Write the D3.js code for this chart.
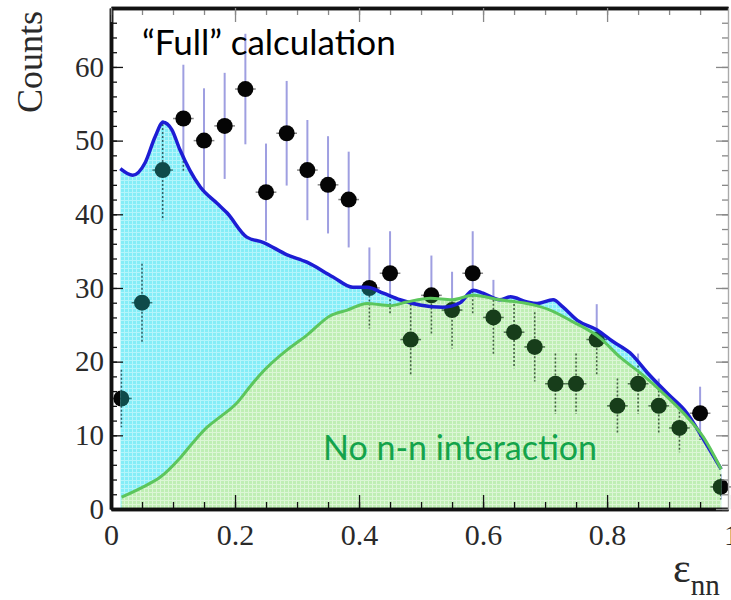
<!DOCTYPE html>
<html>
<head>
<meta charset="utf-8">
<script src="https://cdn.jsdelivr.net/npm/d3@7"></script>
<style>
  body { margin: 0; background: #fff; }
  svg { display: block; }
  .serif { font-family: "Liberation Serif", "DejaVu Serif", "Times New Roman", Times, serif; }
</style>
</head>
<body>
<div id="vis_canvas"></div>
<script>
// measured histogram (30 bins in eps_nn)
var binCenters = [0.0167, 0.05, 0.0833, 0.1167, 0.15, 0.1833, 0.2167, 0.25, 0.2833, 0.3167,
                  0.35, 0.3833, 0.4167, 0.45, 0.4833, 0.5167, 0.55, 0.5833, 0.6167, 0.65,
                  0.6833, 0.7167, 0.75, 0.7833, 0.8167, 0.85, 0.8833, 0.9167, 0.95, 0.9833];
var counts = [15, 28, 46, 53, 50, 52, 57, 43, 51, 46,
              44, 42, 30, 32, 23, 29, 27, 32, 26, 24,
              22, 17, 17, 23, 14, 17, 14, 11, 13, 3];
var countErrors = [3.9, 5.3, 6.8, 7.3, 7.1, 7.2, 7.5, 6.6, 7.1, 6.8,
                   6.6, 6.5, 5.5, 5.7, 4.8, 5.4, 5.2, 5.7, 5.1, 4.9,
                   4.7, 4.1, 4.1, 4.8, 3.7, 4.1, 3.7, 3.3, 3.6, 1.7];

// "Full" calculation curve
var fullX = [0.015, 0.035, 0.055, 0.071, 0.084, 0.098, 0.111, 0.127, 0.144, 0.171,
             0.187, 0.219, 0.245, 0.284, 0.316, 0.358, 0.39, 0.413, 0.439, 0.466,
             0.498, 0.535, 0.563, 0.584, 0.6, 0.627, 0.644, 0.671, 0.687, 0.713,
             0.729, 0.752, 0.784, 0.81, 0.837, 0.865, 0.897, 0.929, 0.953, 0.984];
var fullY = [46.2, 45.3, 47, 50.5, 52.5, 51.5, 48.8, 46, 43.7, 41.5,
             40.2, 36.9, 36.2, 34.5, 33.5, 31.5, 30.1, 30.1, 29.3, 28.4,
             27.7, 27.4, 28, 29.7, 29.3, 28.4, 28.8, 28.1, 27.9, 28.4,
             27.4, 25.6, 24.3, 22.7, 21.2, 18.5, 15.7, 13, 9.8, 5.4];

// no n-n interaction curve
var noNNX = [0.017, 0.052, 0.079, 0.111, 0.132, 0.155, 0.176, 0.203, 0.224, 0.24,
             0.284, 0.305, 0.316, 0.353, 0.381, 0.413, 0.45, 0.477, 0.515, 0.55,
             0.584, 0.627, 0.681, 0.708, 0.745, 0.789, 0.821, 0.853, 0.897, 0.929,
             0.955, 0.984];
var noNNY = [1.6, 3, 4.3, 6.9, 9, 11.1, 12.5, 14.4, 16.6, 18.2,
             21.6, 22.9, 23.6, 26.2, 27, 27.9, 27.6, 28.1, 28.6, 28.4,
             29, 28.4, 27.7, 27, 25.4, 23.2, 20.6, 18.5, 15.2, 12.5,
             9.8, 5.4];

var xTickLabels = [0, 0.2, 0.4, 0.6, 0.8, 1];
var yTickLabels = [0, 10, 20, 30, 40, 50, 60];

var width = 731, height = 600;
var plot = {left: 111, right: 728, top: 8, bottom: 509};

var x = d3.scaleLinear().domain([0, 0.995]).range([plot.left, plot.right]);
var y = d3.scaleLinear().domain([0, 68]).range([plot.bottom, plot.top]);

var points = counts.map(function (c, i) {
    return {x: binCenters[i], y: c, err: countErrors[i]};
});
var fullCurve = fullX.map(function (v, i) { return {x: v, y: fullY[i]}; });
var noNNCurve = noNNX.map(function (v, i) { return {x: v, y: noNNY[i]}; });

var svg = d3.select("#vis_canvas").append("svg")
    .attr("width", width)
    .attr("height", height);

var defs = svg.append("defs");

// grid-textured fills
function gridPattern(id, base, line) {
    var p = defs.append("pattern")
        .attr("id", id)
        .attr("patternUnits", "userSpaceOnUse")
        .attr("width", 4)
        .attr("height", 4);
    p.append("rect").attr("width", 4).attr("height", 4).attr("fill", base);
    p.append("rect").attr("width", 4).attr("height", 1).attr("fill", line);
    p.append("rect").attr("width", 1).attr("height", 4).attr("fill", line);
}
gridPattern("cyanGrid", "#84edf7", "#b4f5fb");
gridPattern("greenGrid", "#bfeeb4", "#dcf6d6");

var area = d3.area()
    .x(function (d) { return x(d.x); })
    .y0(y(0))
    .y1(function (d) { return y(d.y); })
    .curve(d3.curveMonotoneX);
var line = d3.line()
    .x(function (d) { return x(d.x); })
    .y(function (d) { return y(d.y); })
    .curve(d3.curveMonotoneX);

defs.append("clipPath").attr("id", "clipFull")
    .append("path").attr("d", area(fullCurve));
defs.append("clipPath").attr("id", "clipNoNN")
    .append("path").attr("d", area(noNNCurve));

function drawPoints(g, fill, barColor, dashed) {
    var sel = g.selectAll(".pt")
        .data(points)
        .enter().append("g")
        .attr("class", "pt");
    sel.append("line")
        .attr("x1", function (d) { return x(d.x); })
        .attr("x2", function (d) { return x(d.x); })
        .attr("y1", function (d) { return y(d.y + d.err); })
        .attr("y2", function (d) { return y(d.y - d.err); })
        .attr("stroke", barColor)
        .attr("stroke-width", dashed ? 1.6 : 2)
        .attr("stroke-dasharray", dashed ? "2,2" : null)
        .attr("opacity", 0.85);
    sel.append("line")
        .attr("x1", function (d) { return x(d.x - 0.0167); })
        .attr("x2", function (d) { return x(d.x + 0.0167); })
        .attr("y1", function (d) { return y(d.y); })
        .attr("y2", function (d) { return y(d.y); })
        .attr("stroke", dashed ? fill : "#555")
        .attr("stroke-width", 1.5)
        .attr("opacity", 0.7);
    sel.append("circle")
        .attr("cx", function (d) { return x(d.x); })
        .attr("cy", function (d) { return y(d.y); })
        .attr("r", 8)
        .attr("fill", fill);
}

// points outside the calculated areas
drawPoints(svg.append("g"), "#050505", "#8f8fdc", false);

// under the "Full" curve
var gFull = svg.append("g").attr("clip-path", "url(#clipFull)");
gFull.append("rect")
    .attr("x", plot.left).attr("y", plot.top)
    .attr("width", plot.right - plot.left).attr("height", plot.bottom - plot.top)
    .attr("fill", "url(#cyanGrid)");
drawPoints(gFull, "#0f4a4a", "#1d4a50", true);

// under the no n-n curve
var gNoNN = svg.append("g").attr("clip-path", "url(#clipNoNN)");
gNoNN.append("rect")
    .attr("x", plot.left).attr("y", plot.top)
    .attr("width", plot.right - plot.left).attr("height", plot.bottom - plot.top)
    .attr("fill", "url(#greenGrid)");
drawPoints(gNoNN, "#173d1a", "#2a4a2a", true);

svg.append("path")
    .attr("d", line(fullCurve))
    .attr("fill", "none")
    .attr("stroke", "#1d1dd4")
    .attr("stroke-width", 3.5);
svg.append("path")
    .attr("d", line(noNNCurve))
    .attr("fill", "none")
    .attr("stroke", "#5cc65c")
    .attr("stroke-width", 3);

// axes
function fmt(d) { return d === 0 ? "0" : (d === 1 ? "1" : d3.format(".1f")(d)); }

var yMinor = d3.range(0, 68, 2);
var xMinor = d3.range(0, 1, 0.05);

svg.append("g")
    .attr("class", "axis")
    .attr("transform", "translate(" + plot.left + ",0)")
    .call(d3.axisLeft(y).tickValues(yMinor).tickSizeInner(-6).tickSizeOuter(0).tickFormat(""));
svg.append("g")
    .attr("class", "axis serif")
    .attr("transform", "translate(" + plot.left + ",0)")
    .call(d3.axisLeft(y).tickValues(yTickLabels).tickSizeInner(-12).tickSizeOuter(0).tickPadding(7))
    .attr("font-family", null)
    .attr("font-size", 29);

svg.append("g")
    .attr("class", "axis")
    .attr("transform", "translate(0," + plot.bottom + ")")
    .call(d3.axisBottom(x).tickValues(xMinor).tickSizeInner(-7).tickSizeOuter(0).tickFormat(""));
svg.append("g")
    .attr("class", "axis serif")
    .attr("transform", "translate(0," + plot.bottom + ")")
    .call(d3.axisBottom(x).tickValues(xTickLabels).tickSizeInner(-14).tickSizeOuter(0).tickPadding(15).tickFormat(fmt))
    .attr("font-family", null)
    .attr("font-size", 30);

// mirrored top / right ticks
svg.append("g")
    .attr("class", "axis mirror")
    .attr("transform", "translate(0," + plot.top + ")")
    .call(d3.axisTop(x).tickValues(xMinor).tickSizeInner(-7).tickSizeOuter(0).tickFormat(""));
svg.append("g")
    .attr("class", "axis mirror")
    .attr("transform", "translate(0," + plot.top + ")")
    .call(d3.axisTop(x).tickValues(xTickLabels.slice(0, 5)).tickSizeInner(-14).tickSizeOuter(0).tickFormat(""));
svg.append("g")
    .attr("class", "axis mirror right")
    .attr("transform", "translate(" + plot.right + ",0)")
    .call(d3.axisRight(y).tickValues(yMinor).tickSizeInner(-6).tickSizeOuter(0).tickFormat(""));
svg.append("g")
    .attr("class", "axis mirror right")
    .attr("transform", "translate(" + plot.right + ",0)")
    .call(d3.axisRight(y).tickValues(yTickLabels).tickSizeInner(-12).tickSizeOuter(0).tickFormat(""));

svg.selectAll(".axis text").attr("fill", "#2a2a2a");
svg.selectAll(".axis .tick line").attr("stroke", "#111").attr("stroke-width", 1.3);
svg.selectAll(".mirror .tick line").attr("stroke", "#888");
svg.selectAll(".axis .domain").attr("stroke", "#111").attr("stroke-width", 3.5);
svg.selectAll(".right .domain").attr("stroke", "#aaa").attr("stroke-width", 1.2);

// axis titles
svg.append("text")
    .attr("class", "serif")
    .attr("transform", "translate(42,62) rotate(-90)")
    .attr("text-anchor", "middle")
    .attr("font-size", 36)
    .attr("fill", "#2a2a2a")
    .text("Counts");

var xt = svg.append("text")
    .attr("class", "serif")
    .attr("x", 673)
    .attr("y", 582)
    .attr("fill", "#2a2a2a");
xt.append("tspan").attr("font-size", 42).text("ε");
xt.append("tspan").attr("dy", 13).attr("font-size", 29).text("nn");

// annotations
svg.append("text")
    .attr("x", 142)
    .attr("y", 55)
    .attr("font-family", "Lato, 'Open Sans', sans-serif")
    .attr("font-size", 35)
    .attr("fill", "#000")
    .text("\u201CFull\u201D calculation");

svg.append("text")
    .attr("x", 323)
    .attr("y", 460)
    .attr("font-family", "Lato, 'Open Sans', sans-serif")
    .attr("font-size", 34)
    .attr("fill", "#14a34b")
    .text("No n-n interaction");
</script>
</body>
</html>
